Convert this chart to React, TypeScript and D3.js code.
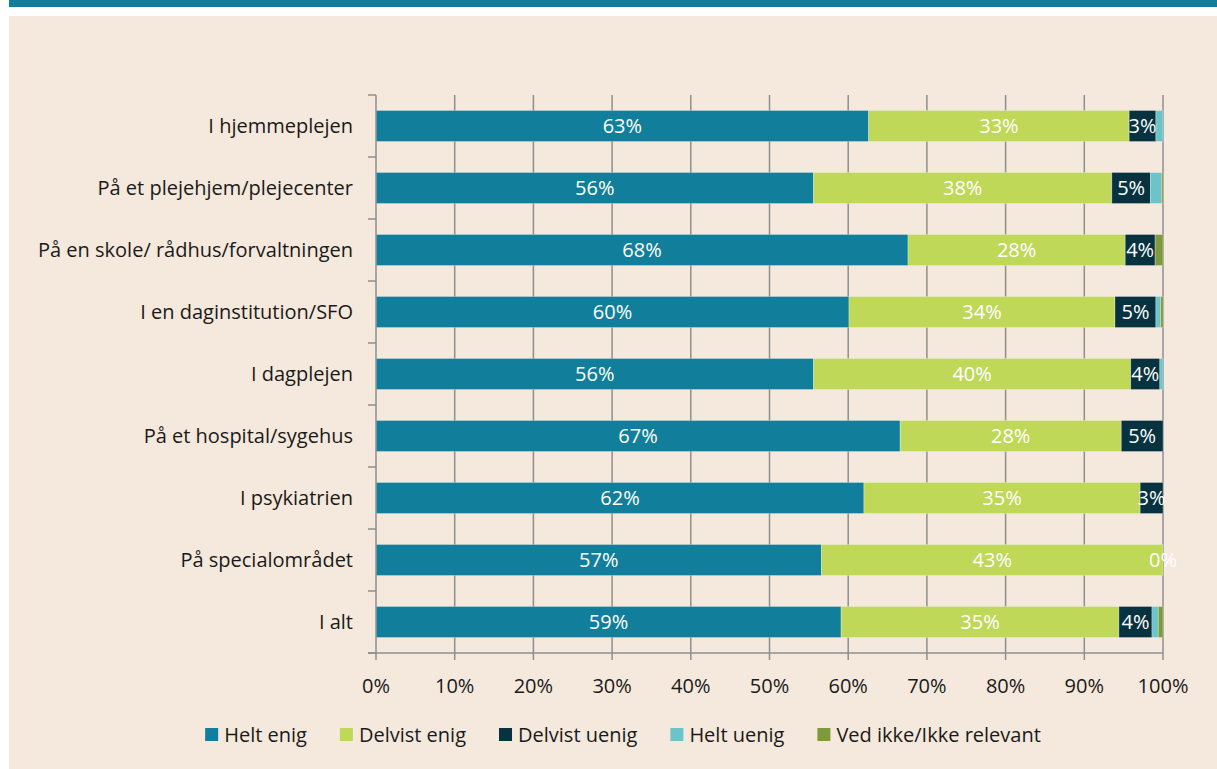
import React, { useEffect, useRef } from "react";
import * as d3 from "d3";

const categories = [
  "I hjemmeplejen",
  "På et plejehjem/plejecenter",
  "På en skole/ rådhus/forvaltningen",
  "I en daginstitution/SFO",
  "I dagplejen",
  "På et hospital/sygehus",
  "I psykiatrien",
  "På specialområdet",
  "I alt",
];

const seriesNames = ["Helt enig", "Delvist enig", "Delvist uenig", "Helt uenig", "Ved ikke/Ikke relevant"];
const seriesColors = ["#117f9b", "#bfd858", "#073341", "#6cc4c8", "#7f9a3c"];

const heltEnig = [62.6, 55.6, 67.6, 60.1, 55.6, 66.6, 62.0, 56.6, 59.1];
const delvistEnig = [33.1, 37.9, 27.6, 33.8, 40.3, 28.1, 35.1, 43.4, 35.3];
const delvistUenig = [3.4, 4.9, 3.8, 5.2, 3.7, 5.3, 2.9, 0, 4.2];
const heltUenig = [0.9, 1.4, 0, 0.6, 0.4, 0, 0, 0, 0.8];
const vedIkke = [0, 0.2, 1.0, 0.3, 0, 0, 0, 0, 0.6];

const xTicks = [0, 10, 20, 30, 40, 50, 60, 70, 80, 90, 100];
// only the first three series get value labels
const labelledSeries = 3;

const FONT = "'Open Sans', 'Segoe UI', sans-serif";
const FS = "20px";

export default function App() {
  const ref = useRef<SVGSVGElement>(null);

  useEffect(() => {
    const svg = d3.select(ref.current);
    svg.selectAll("*").remove();

    const W = 1217,
      H = 769;
    const margin = { top: 95, left: 376, right: 54, bottom: 116 };
    const plotBottom = H - margin.bottom;
    const plotRight = W - margin.right;

    // frame
    svg.append("rect").attr("width", W).attr("height", H).attr("fill", "#ffffff");
    svg.append("rect").attr("x", 9).attr("y", 0).attr("width", W - 9).attr("height", 7).attr("fill", "#117f9b");
    svg.append("rect").attr("x", 9).attr("y", 16).attr("width", W - 9).attr("height", H - 16).attr("fill", "#f5e8dc");

    const x = d3.scaleLinear().domain([0, 100]).range([margin.left, plotRight]);
    const y = d3
      .scaleBand()
      .domain(categories)
      .range([margin.top, plotBottom])
      .paddingInner(0.5)
      .paddingOuter(0.25);

    const gridColor = "#8f8f8f";

    // vertical gridlines
    svg
      .append("g")
      .selectAll("line")
      .data(xTicks.slice(1))
      .join("line")
      .attr("x1", (d) => x(d))
      .attr("x2", (d) => x(d))
      .attr("y1", margin.top)
      .attr("y2", plotBottom)
      .attr("stroke", gridColor)
      .attr("stroke-width", 1.5);

    // rows -> stacked table
    const table = categories.map((c, i) => ({
      cat: c,
      vals: [heltEnig[i], delvistEnig[i], delvistUenig[i], heltUenig[i], vedIkke[i]],
    }));

    const rows = svg
      .append("g")
      .selectAll("g")
      .data(table)
      .join("g")
      .attr("transform", (d) => `translate(0, ${y(d.cat)})`);

    rows.each(function (d) {
      const g = d3.select(this);
      let acc = 0;
      d.vals.forEach((v, k) => {
        const x0 = x(acc);
        const x1 = x(acc + v);
        acc += v;
        if (v > 0) {
          g.append("rect")
            .attr("x", x0)
            .attr("y", 0)
            .attr("width", x1 - x0)
            .attr("height", y.bandwidth())
            .attr("fill", seriesColors[k])
            .attr("stroke", "rgba(255,255,255,0.35)")
            .attr("stroke-width", 0.8);
        }
        if (k < labelledSeries) {
          g.append("text")
            .attr("x", (x0 + x1) / 2)
            .attr("y", y.bandwidth() / 2)
            .attr("dy", "0.35em")
            .attr("text-anchor", "middle")
            .attr("fill", "#ffffff")
            .style("font-family", FONT)
            .style("font-size", FS)
            .text(Math.round(v) + "%");
        }
      });
    });

    // y axis with ticks between categories
    const step = y.step();
    const yTickPos = d3.range(categories.length + 1).map((i) => margin.top + i * step);
    svg
      .append("line")
      .attr("x1", margin.left)
      .attr("x2", margin.left)
      .attr("y1", margin.top)
      .attr("y2", plotBottom)
      .attr("stroke", gridColor)
      .attr("stroke-width", 1.5);
    svg
      .append("g")
      .selectAll("line")
      .data(yTickPos)
      .join("line")
      .attr("x1", margin.left - 8)
      .attr("x2", margin.left)
      .attr("y1", (d) => d)
      .attr("y2", (d) => d)
      .attr("stroke", gridColor)
      .attr("stroke-width", 1.5);

    svg
      .append("g")
      .selectAll("text")
      .data(categories)
      .join("text")
      .attr("x", 353)
      .attr("y", (d) => (y(d) ?? 0) + y.bandwidth() / 2)
      .attr("dy", "0.35em")
      .attr("text-anchor", "end")
      .attr("fill", "#1a1a1a")
      .style("font-family", FONT)
      .style("font-size", FS)
      .text((d) => d);

    // x axis
    svg
      .append("line")
      .attr("x1", margin.left - 8)
      .attr("x2", plotRight)
      .attr("y1", plotBottom)
      .attr("y2", plotBottom)
      .attr("stroke", gridColor)
      .attr("stroke-width", 1.5);
    svg
      .append("g")
      .selectAll("line")
      .data(xTicks)
      .join("line")
      .attr("x1", (d) => x(d))
      .attr("x2", (d) => x(d))
      .attr("y1", plotBottom)
      .attr("y2", plotBottom + 7)
      .attr("stroke", gridColor)
      .attr("stroke-width", 1.5);
    svg
      .append("g")
      .selectAll("text")
      .data(xTicks)
      .join("text")
      .attr("x", (d) => x(d))
      .attr("y", 686)
      .attr("dy", "0.35em")
      .attr("text-anchor", "middle")
      .attr("fill", "#1a1a1a")
      .style("font-family", FONT)
      .style("font-size", FS)
      .text((d) => d + "%");

    // legend, laid out from measured text widths
    const legend = svg.append("g");
    const items = seriesNames.map((name, k) => {
      const g = legend.append("g");
      g.append("rect").attr("width", 13).attr("height", 13).attr("y", -7).attr("fill", seriesColors[k]);
      const t = g
        .append("text")
        .attr("x", 19)
        .attr("dy", "0.35em")
        .attr("fill", "#1a1a1a")
        .style("font-family", FONT)
        .style("font-size", FS)
        .text(name);
      const w = 19 + (t.node() as SVGTextElement).getComputedTextLength();
      return { g, w };
    });
    const gap = 33;
    const total = d3.sum(items, (d) => d.w) + gap * (items.length - 1);
    let lx = 623 - total / 2;
    items.forEach((it) => {
      it.g.attr("transform", `translate(${lx}, 735)`);
      lx += it.w + gap;
    });
  }, []);

  return <svg ref={ref} width={1217} height={769} style={{ position: "absolute", left: 0, top: 0 }} />;
}
